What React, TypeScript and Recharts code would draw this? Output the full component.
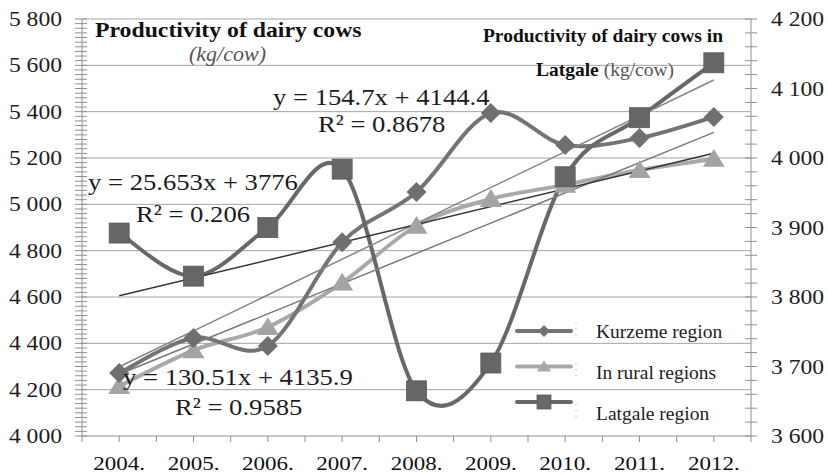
import React from 'react'
import { LineChart, Line, XAxis, YAxis, ReferenceLine, Legend } from 'recharts'

// values (kg per cow)
const years = [2004, 2005, 2006, 2007, 2008, 2009, 2010, 2011, 2012]
const kurzeme = [4272, 4423, 4389, 4836, 5053, 5394, 5256, 5286, 5377]
const rural = [4215, 4370, 4470, 4662, 4907, 5023, 5084, 5148, 5196]
const latgale = [3892, 3830, 3900, 3984, 3665, 3705, 3973, 4058, 4137]

// linear trend lines, values at 2004 and 2012
const kurzemeTrend = [4299.1, 5536.7]
const ruralTrend = [4266.4, 5310.5]
const latgaleTrend = [3801.7, 4006.9]

const leftGrid = [4200, 4400, 4600, 4800, 5000, 5200, 5400, 5600, 5800]

const seriesNames = ['Kurzeme region', 'In rural regions', 'Latgale region']

const FONT = "'Liberation Serif', 'Times New Roman', serif"
const AXIS = '#8f8f8f'
const GRID = '#a4a4a4'
const KURZ = '#747474'
const RURAL = '#a9a9a9'
const LATG = '#686868'

const range = (from: number, to: number, step: number) => {
  const out: number[] = []
  for (let v = from; v <= to + 1e-9; v += step) out.push(Math.round(v * 100) / 100)
  return out
}
const leftTicks = range(4000, 5800, 20)
const rightTicks = range(3600, 4200, 20)
const xTicks = range(2003.5, 2012.5, 0.5)

const last = years.length - 1
const data = years.map((year, i) => ({
  year,
  kurzeme: kurzeme[i],
  rural: rural[i],
  latgale: latgale[i],
  kurzemeTrend: i === 0 ? kurzemeTrend[0] : i === last ? kurzemeTrend[1] : null,
  ruralTrend: i === 0 ? ruralTrend[0] : i === last ? ruralTrend[1] : null,
  latgaleTrend: i === 0 ? latgaleTrend[0] : i === last ? latgaleTrend[1] : null,
}))

// Excel-like smoothed line (Catmull-Rom through the points)
const smooth = (context: any) => {
  let pts: number[][] = []
  return {
    areaStart() {},
    areaEnd() {},
    lineStart() { pts = [] },
    point(x: number, y: number) { pts.push([+x, +y]) },
    lineEnd() {
      if (!pts.length) return
      context.moveTo(pts[0][0], pts[0][1])
      for (let i = 0; i < pts.length - 1; i++) {
        const p0 = pts[i - 1] || pts[i]
        const p1 = pts[i]
        const p2 = pts[i + 1]
        const p3 = pts[i + 2] || p2
        context.bezierCurveTo(
          p1[0] + (p2[0] - p0[0]) / 6, p1[1] + (p2[1] - p0[1]) / 6,
          p2[0] - (p3[0] - p1[0]) / 6, p2[1] - (p3[1] - p1[1]) / 6,
          p2[0], p2[1]
        )
      }
    },
  }
}

const thousands = (v: number) => `${Math.floor(v / 1000)} ${String(v % 1000).padStart(3, '0')}`

const Marker = ({ shape, cx, cy, s, fill }: any) => {
  if (shape === 'diamond') {
    return <polygon points={`${cx},${cy - s} ${cx + s},${cy} ${cx},${cy + s} ${cx - s},${cy}`} fill={fill} />
  }
  if (shape === 'triangle') {
    const h = s * 0.9
    return <polygon points={`${cx},${cy - h} ${cx + s},${cy + h * 0.8} ${cx - s},${cy + h * 0.8}`} fill={fill} />
  }
  return <rect x={cx - s} y={cy - s} width={s * 2} height={s * 2} fill={fill} stroke="#5a5a5a" strokeWidth={0.8} />
}

const dotOf = (shape: string, s: number, fill: string) => (p: any) => {
  if (p.cx == null || p.cy == null) return <g key={p.index} />
  return <Marker key={p.index} shape={shape} cx={p.cx} cy={p.cy} s={s} fill={fill} />
}

const LeftTick = ({ x, y, payload }: any) => {
  const v = payload.value
  const ax = x + 20
  return (
    <g>
      <line x1={ax - 7} x2={ax + 5} y1={y} y2={y} stroke={AXIS} />
      {v % 200 === 0 && (
        <text transform={`translate(${x},${y}) scale(1.18,1)`} textAnchor="end" dy="0.35em"
          fontSize={20} fontFamily={FONT} fill="#1e1e1e">{thousands(v)}</text>
      )}
    </g>
  )
}

const RightTick = ({ x, y, payload }: any) => {
  const v = payload.value
  const ax = x - 20
  return (
    <g>
      <line x1={ax - 6} x2={ax + 6} y1={y} y2={y} stroke={AXIS} />
      {v % 100 === 0 && (
        <text transform={`translate(${x},${y}) scale(1.18,1)`} textAnchor="start" dy="0.35em"
          fontSize={20} fontFamily={FONT} fill="#1e1e1e">{thousands(v)}</text>
      )}
    </g>
  )
}

const XTick = ({ x, y, payload }: any) => {
  if (!Number.isInteger(payload.value)) return <g />
  return (
    <text transform={`translate(${x},${y + 21}) scale(1.18,1)`} textAnchor="middle" dy="0.35em"
      fontSize={19.5} fontFamily={FONT} fill="#111">{`${payload.value}.`}</text>
  )
}

const legendRows = [
  { shape: 'diamond', color: KURZ, s: 6 },
  { shape: 'triangle', color: RURAL, s: 7 },
  { shape: 'square', color: LATG, s: 7 },
]

const LegendBox = () => (
  <svg width={230} height={120} style={{ overflow: 'visible' }}>
    {legendRows.map((r, i) => {
      const cy = 18 + i * 35.5
      const ty = 18.5 + i * 40.7
      return (
        <g key={seriesNames[i]}>
          <line x1={5} x2={59} y1={cy} y2={cy} stroke={r.color} strokeWidth={4} strokeLinecap="round" />
          <Marker shape={r.shape} cx={32} cy={cy} s={r.s} fill={r.color} />
          <line x1={64} x2={64} y1={ty - 9} y2={ty + 8} stroke="#999" strokeDasharray="1 5" />
          <text x={84} y={ty} dy="0.35em" fontSize={19.5} fontFamily={FONT} fill="#222">{seriesNames[i]}</text>
        </g>
      )
    })}
  </svg>
)

// lh = line height in em; baseline sits (lh/2 + 0.3375) em below the box top for Liberation Serif
const Note = ({ x, base, size, sx = 1, lh = 1, bold = false, italic = false, color = '#1c1c1c', children }: any) => (
  <div style={{
    position: 'absolute', left: x, top: base - size * (lh / 2 + 0.3375), fontSize: size, lineHeight: lh,
    fontFamily: FONT, fontWeight: bold ? 700 : 400, fontStyle: italic ? 'italic' : 'normal',
    color, whiteSpace: 'nowrap', transform: `scaleX(${sx})`, transformOrigin: 'left top', pointerEvents: 'none',
  }}>{children}</div>
)

export default function App() {
  return (
    <div style={{ position: 'absolute', left: 0, top: 0, width: 828, height: 474, background: '#fff', overflow: 'hidden' }}>
      <LineChart width={828} height={474} data={data} margin={{ top: 19, right: 0, bottom: 0, left: 0 }}>
        <XAxis dataKey="year" type="number" domain={[2003.5, 2012.5]} ticks={xTicks} interval={0}
          height={38} tickSize={6} tickMargin={0} stroke={AXIS} tick={<XTick />} />
        <YAxis yAxisId="left" domain={[4000, 5800]} ticks={leftTicks} interval={0} width={82}
          tickSize={0} tickMargin={20} tickLine={false} stroke={AXIS} tick={<LeftTick />} />
        <YAxis yAxisId="right" orientation="right" domain={[3600, 4200]} ticks={rightTicks} interval={0} width={77}
          tickSize={0} tickMargin={20} tickLine={false} stroke={AXIS} tick={<RightTick />} />
        {leftGrid.map(v => (
          <ReferenceLine key={v} yAxisId="left" y={v} stroke={GRID} strokeWidth={1} />
        ))}
        <Line yAxisId="left" dataKey="rural" name={seriesNames[1]} type={smooth as any} stroke={RURAL}
          strokeWidth={4} dot={dotOf('triangle', 11, '#a4a4a4')} isAnimationActive={false} />
        <Line yAxisId="left" dataKey="kurzeme" name={seriesNames[0]} type={smooth as any} stroke={KURZ}
          strokeWidth={4} dot={dotOf('diamond', 10, '#6f6f6f')} isAnimationActive={false} />
        <Line yAxisId="right" dataKey="latgale" name={seriesNames[2]} type={smooth as any} stroke={LATG}
          strokeWidth={4} dot={dotOf('square', 10, '#666')} isAnimationActive={false} />
        <Line yAxisId="left" dataKey="kurzemeTrend" type="linear" stroke="#858585" strokeWidth={1.5}
          dot={false} connectNulls isAnimationActive={false} legendType="none" />
        <Line yAxisId="left" dataKey="ruralTrend" type="linear" stroke="#7a7a7a" strokeWidth={1.5}
          dot={false} connectNulls isAnimationActive={false} legendType="none" />
        <Line yAxisId="right" dataKey="latgaleTrend" type="linear" stroke="#363636" strokeWidth={1.5}
          dot={false} connectNulls isAnimationActive={false} legendType="none" />
        <Legend layout="vertical" align="center" verticalAlign="middle" content={() => <LegendBox />}
          wrapperStyle={{ left: 512, top: 313, bottom: 'auto', width: 230, height: 120 }} />
      </LineChart>

      <Note x={95} base={38} size={21} sx={1.13} bold color="#111">Productivity of dairy cows</Note>
      <Note x={189} base={62} size={22} lh={0.85} italic color="#555">(kg/cow)</Note>
      <div style={{ position: 'absolute', left: 453, width: 300, top: 42 - 19.5 * 0.8375, textAlign: 'center',
        fontFamily: FONT, fontSize: 19.5, lineHeight: 1, fontWeight: 700, color: '#111', whiteSpace: 'nowrap' }}>
        Productivity of dairy cows in
      </div>
      <div style={{ position: 'absolute', left: 455, width: 300, top: 76 - 19.5 * 0.8375, textAlign: 'center',
        fontFamily: FONT, fontSize: 19.5, lineHeight: 1, color: '#555', whiteSpace: 'nowrap' }}>
        <span style={{ fontWeight: 700, color: '#111' }}>Latgale</span> (kg/cow)
      </div>

      <Note x={273} base={105} size={24} lh={0.75} sx={1.11}>y = 154.7x + 4144.4</Note>
      <Note x={318} base={132} size={24} lh={0.75} sx={1.11}>R² = 0.8678</Note>
      <Note x={88} base={190} size={24} lh={0.75} sx={1.11}>y = 25.653x + 3776</Note>
      <Note x={136} base={222} size={24} lh={0.75} sx={1.11}>R² = 0.206</Note>
      <Note x={123} base={385} size={24} lh={0.75} sx={1.11}>y = 130.51x + 4135.9</Note>
      <Note x={175} base={415} size={24} lh={0.75} sx={1.11}>R² = 0.9585</Note>
    </div>
  )
}
